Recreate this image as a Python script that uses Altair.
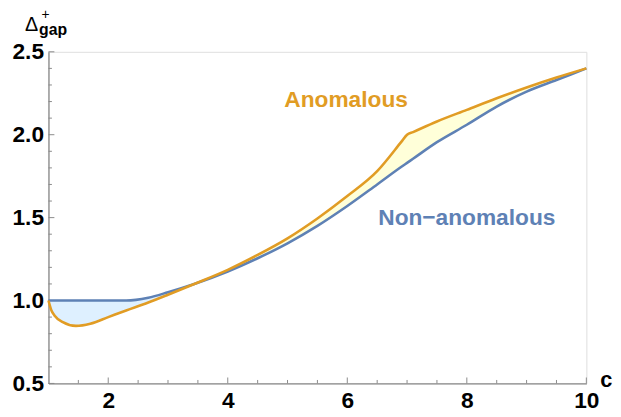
import altair as alt
import pandas as pd

# ---- data ----
c_vals = [1.0, 1.05, 1.1, 1.24, 1.46, 1.7, 2.0, 2.3, 2.67, 3.0, 3.44, 4.0, 4.5, 5.0, 5.5,
          6.0, 6.5, 6.9, 7.0, 7.1, 7.5, 8.0, 8.5, 9.0, 9.5, 10.0]
non_anomalous = [1.0, 1.0, 1.0, 1.0, 1.0, 1.0, 1.0, 1.0, 1.017, 1.05, 1.1, 1.175, 1.255, 1.345, 1.45,
                 1.57, 1.7, 1.805, 1.83, 1.855, 1.955, 2.06, 2.17, 2.26, 2.33, 2.4]
anomalous = [1.0, 0.94, 0.91, 0.87, 0.847, 0.86, 0.9, 0.94, 0.988, 1.035, 1.1, 1.185, 1.275, 1.375, 1.495,
             1.63, 1.78, 1.955, 2.0, 2.016, 2.08, 2.15, 2.22, 2.285, 2.345, 2.4]
crossing_c = 3.44

x_major = [2, 4, 6, 8, 10]
x_minor = [1.5, 2.5, 3, 3.5, 4.5, 5, 5.5, 6.5, 7, 7.5, 8.5, 9, 9.5]
y_major = [0.5, 1.0, 1.5, 2.0, 2.5]
y_minor = [0.6, 0.7, 0.8, 0.9, 1.1, 1.2, 1.3, 1.4, 1.6, 1.7, 1.8, 1.9, 2.1, 2.2, 2.3, 2.4]

BLUE = "#5E81B5"
ORANGE = "#E19C24"
GRAY = "#8a8a8a"
FONT = "Liberation Sans"
W, H = 545, 336

df = pd.DataFrame({"c": c_vals, "non": non_anomalous, "ano": anomalous})
fill_df = pd.concat([
    df[df.c <= crossing_c].assign(region="below"),
    df[df.c >= crossing_c].assign(region="above"),
])
one = pd.DataFrame({"k": [0]})

xs = alt.Scale(domain=[1, 10], nice=False, zero=False)
ys = alt.Scale(domain=[0.5, 2.5], nice=False, zero=False)

x_axis = alt.Axis(values=x_major, format="d", title=None, ticks=False, grid=False, domainColor=GRAY,
                  domainWidth=1.3, labelFont=FONT, labelFontWeight="bold", labelFontSize=23,
                  labelColor="black", labelPadding=6, labelFlush=False)
y_axis = alt.Axis(values=y_major, format=".1f", title=None, ticks=False, grid=False,
                  domainColor=GRAY, domainWidth=1.3, labelFont=FONT, labelFontWeight="bold",
                  labelFontSize=23, labelColor="black", labelPadding=5)

area = alt.Chart(fill_df).mark_area(interpolate="monotone").encode(
    x=alt.X("c:Q", scale=xs, axis=x_axis),
    y=alt.Y("ano:Q", scale=ys, axis=y_axis),
    y2="non:Q",
    color=alt.Color("region:N", scale=alt.Scale(domain=["below", "above"],
                                                range=["#DEF0FF", "#FFFFD9"]), legend=None),
)

blue_line = alt.Chart(df).mark_line(interpolate="monotone", color=BLUE, strokeWidth=2.6).encode(
    x=alt.X("c:Q", scale=xs), y=alt.Y("non:Q", scale=ys))
orange_line = alt.Chart(df).mark_line(interpolate="monotone", color=ORANGE, strokeWidth=2.6).encode(
    x=alt.X("c:Q", scale=xs), y=alt.Y("ano:Q", scale=ys))

# inward ticks (Mathematica style)
def xticks(vals, length):
    return alt.Chart(pd.DataFrame({"t": vals})).mark_rule(color=GRAY, strokeWidth=1).encode(
        x=alt.X("t:Q", scale=xs), y=alt.value(H), y2=alt.value(H - length))

def yticks(vals, length):
    return alt.Chart(pd.DataFrame({"t": vals})).mark_rule(color=GRAY, strokeWidth=1).encode(
        y=alt.Y("t:Q", scale=ys), x=alt.value(0), x2=alt.value(length))

ticks = xticks(x_major, 6) + xticks(x_minor, 3.5) + yticks(y_major, 6) + yticks(y_minor, 3.5)

lab_ano = alt.Chart(one).mark_text(font=FONT, fontWeight="bold", fontSize=23, color=ORANGE,
                                   align="center", baseline="middle").encode(
    x=alt.datum(5.98), y=alt.datum(2.21), text=alt.value("Anomalous"))
lab_non = alt.Chart(one).mark_text(font=FONT, fontWeight="bold", fontSize=23, color=BLUE,
                                   align="center", baseline="middle").encode(
    x=alt.datum(8.0), y=alt.datum(1.5), text=alt.value("Non\u2212anomalous"))

# axis titles
t_c = alt.Chart(one).mark_text(font=FONT, fontWeight="bold", fontSize=22, color="black",
                               align="left", baseline="alphabetic").encode(
    x=alt.value(W + 14), y=alt.value(H + 4), text=alt.value("c"))
t_delta = alt.Chart(one).mark_text(font=FONT, fontSize=20, color="black",
                                   align="center", baseline="alphabetic").encode(
    x=alt.value(-17), y=alt.value(-21), text=alt.value("\u0394"))
t_plus = alt.Chart(one).mark_text(font=FONT, fontSize=14, color="black",
                                  align="center", baseline="middle").encode(
    x=alt.value(-3), y=alt.value(-37), text=alt.value("+"))
t_gap = alt.Chart(one).mark_text(font=FONT, fontWeight="bold", fontSize=16, color="black",
                                 align="left", baseline="alphabetic").encode(
    x=alt.value(-9.5), y=alt.value(-17.5), text=alt.value("gap"))

chart = alt.layer(
    area, ticks, blue_line, orange_line, lab_ano, lab_non, t_c, t_delta, t_plus, t_gap
).properties(
    width=W, height=H,
    autosize=alt.AutoSizeParams(type="none"),
    padding={"left": 41, "top": 41.7, "right": 27, "bottom": 30},
).configure_view(stroke=None).configure(background="white")

chart.save("out.html", embed_options={"renderer": "svg", "actions": False})
